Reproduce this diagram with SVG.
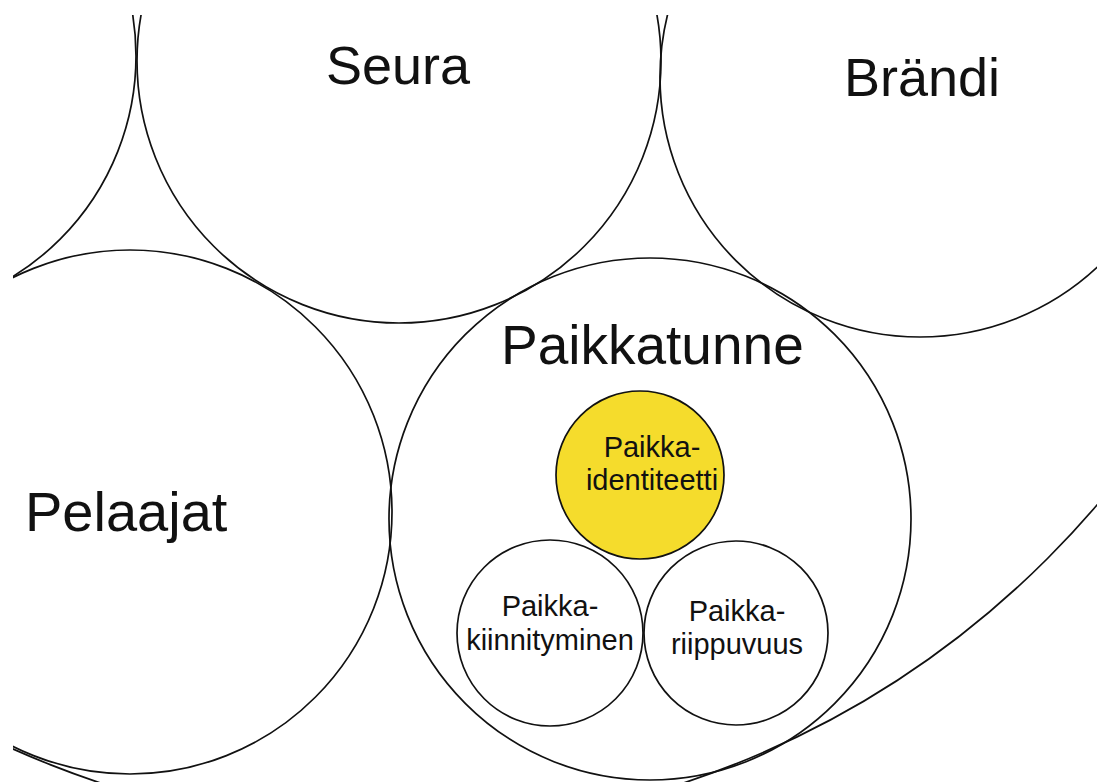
<svg xmlns="http://www.w3.org/2000/svg" width="1097" height="782" viewBox="0 0 1097 782">
<defs>
<clipPath id="frame"><rect x="13" y="15" width="1084" height="767"/></clipPath>
<style>
.ring{fill:none;stroke:#111;stroke-width:1.7}
.sub{fill:#fff;stroke:#111;stroke-width:1.7}
.core{fill:#f5dc2c;stroke:#111;stroke-width:1.7}
.big{font-family:"Liberation Sans",Arial,sans-serif;font-size:54px;fill:#111}
.small{font-family:"Liberation Sans",Arial,sans-serif;font-size:29px;fill:#111;text-anchor:middle}
</style>
</defs>
<rect width="1097" height="782" fill="#fff"/>
<g clip-path="url(#frame)">
<g id="outer"><circle class="ring" cx="392" cy="-97" r="927"/></g>
<g id="corner"><circle class="ring" cx="-123" cy="56" r="259"/></g>
<g id="seura"><circle class="ring" cx="399" cy="61" r="262"/><text class="big" x="326" y="84">Seura</text></g>
<g id="brandi"><circle class="ring" cx="920" cy="77" r="260"/><text class="big" x="844" y="96">Brändi</text></g>
<g id="pelaajat"><circle class="ring" cx="130" cy="512" r="262"/><text class="big" x="25" y="531" style="font-size:56px">Pelaajat</text></g>
<g id="paikkatunne"><circle class="ring" cx="650" cy="519" r="261"/><text class="big" x="501" y="364" style="font-size:55px">Paikkatunne</text></g>
<g id="identiteetti"><circle class="core" cx="640" cy="475" r="84"/><text class="small" x="652" y="457">Paikka-</text><text class="small" x="652" y="490">identiteetti</text></g>
<g id="kiinnityminen"><circle class="sub" cx="550" cy="633" r="93"/><text class="small" x="550" y="616">Paikka-</text><text class="small" x="550" y="650">kiinnityminen</text></g>
<g id="riippuvuus"><circle class="sub" cx="736" cy="633" r="92"/><text class="small" x="737" y="621">Paikka-</text><text class="small" x="737" y="654">riippuvuus</text></g>
</g>
</svg>
